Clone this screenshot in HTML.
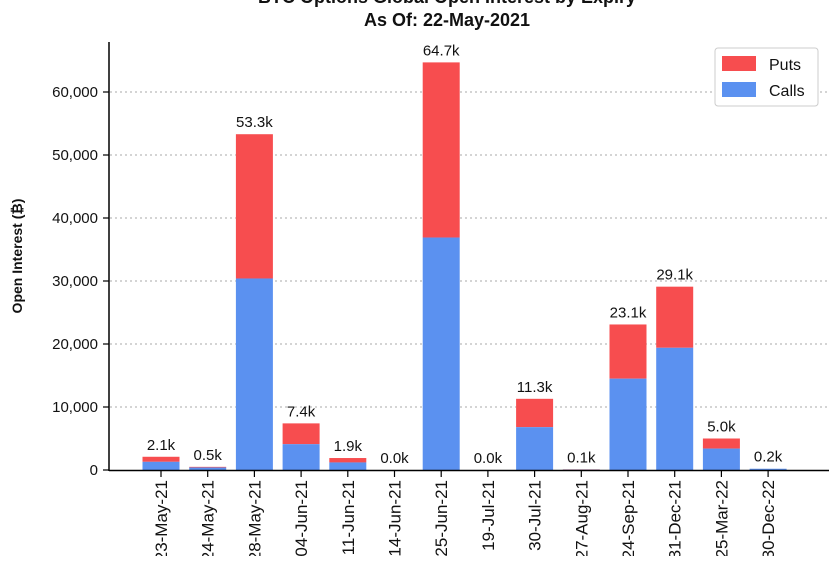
<!DOCTYPE html>
<html><head><style>
body{margin:0;background:#fff;}
svg text{font-family:"Liberation Sans",sans-serif;fill:#111;}
</style></head><body>
<svg width="834" height="556" xmlns="http://www.w3.org/2000/svg">
<text x="447" y="3" font-size="18" font-weight="bold" text-anchor="middle">BTC Options Global Open Interest by Expiry</text>
<text x="447" y="26" font-size="18" font-weight="bold" text-anchor="middle">As Of: 22-May-2021</text>
<g stroke="#aaa" stroke-width="1" stroke-dasharray="2,3">
<line x1="110" x2="829" y1="407" y2="407"/><line x1="110" x2="829" y1="344" y2="344"/>
<line x1="110" x2="829" y1="281" y2="281"/><line x1="110" x2="829" y1="218" y2="218"/>
<line x1="110" x2="829" y1="155" y2="155"/><line x1="110" x2="829" y1="92" y2="92"/>
</g>
<g id="bars"></g>
<line x1="109" y1="42" x2="109" y2="471" stroke="#000" stroke-width="1.5"/>
<line x1="109" y1="470.5" x2="829" y2="470.5" stroke="#000" stroke-width="1.5"/>
<g font-size="15" text-anchor="end">
<text x="98" y="475">0</text><text x="98" y="412">10,000</text><text x="98" y="349">20,000</text>
<text x="98" y="286">30,000</text><text x="98" y="223">40,000</text><text x="98" y="160">50,000</text><text x="98" y="97">60,000</text>
</g>
<g stroke="#000" stroke-width="1.2">
<line x1="103" x2="109" y1="470" y2="470"/><line x1="103" x2="109" y1="407" y2="407"/><line x1="103" x2="109" y1="344" y2="344"/>
<line x1="103" x2="109" y1="281" y2="281"/><line x1="103" x2="109" y1="218" y2="218"/><line x1="103" x2="109" y1="155" y2="155"/><line x1="103" x2="109" y1="92" y2="92"/>
</g>
<text transform="translate(22,256) rotate(-90)" font-size="14" font-weight="bold" text-anchor="middle">Open Interest (₿)</text>
<rect x="715" y="48" width="103" height="58" rx="3" fill="#fff" stroke="#ccc"/>
<rect x="722" y="56" width="34" height="15" fill="#f74d4f"/>
<rect x="722" y="82" width="34" height="15" fill="#5b91f0"/>
<text x="769" y="70" font-size="16">Puts</text>
<text x="769" y="96" font-size="16">Calls</text>
<g id="labels"></g>
</svg>
<script>
var d=[["23-May-21",1.3,2.1],["24-May-21",0.4,0.5],["28-May-21",30.4,53.3],["04-Jun-21",4.1,7.4],["11-Jun-21",1.2,1.9],["14-Jun-21",0,0],["25-Jun-21",36.9,64.7],["19-Jul-21",0,0],["30-Jul-21",6.8,11.3],["27-Aug-21",0.05,0.1],["24-Sep-21",14.5,23.1],["31-Dec-21",19.4,29.1],["25-Mar-22",3.4,5.0],["30-Dec-22",0.2,0.2]];
var ns="http://www.w3.org/2000/svg",b=document.getElementById("bars"),L=document.getElementById("labels");
function el(p,t,a,tx){var e=document.createElementNS(ns,t);for(var k in a)e.setAttribute(k,a[k]);if(tx)e.textContent=tx;p.appendChild(e);return e;}
d.forEach(function(r,i){var cx=161+i*46.7,s=6.3,y0=470;
var hc=r[1]*s,ht=r[2]*s;
el(b,"rect",{x:cx-18.5,y:y0-ht,width:37,height:ht-hc,fill:"#f74d4f"});
el(b,"rect",{x:cx-18.5,y:y0-hc,width:37,height:hc,fill:"#5b91f0"});
el(b,"text",{x:cx,y:y0-ht-7,"font-size":15,"text-anchor":"middle"},r[2].toFixed(1)+"k");
el(L,"line",{x1:cx,x2:cx,y1:471,y2:477,stroke:"#000","stroke-width":1.2});
el(L,"text",{transform:"translate("+(cx+6)+",480) rotate(-90)","font-size":17,"text-anchor":"end"},r[0]);
});
</script>
</body></html>
